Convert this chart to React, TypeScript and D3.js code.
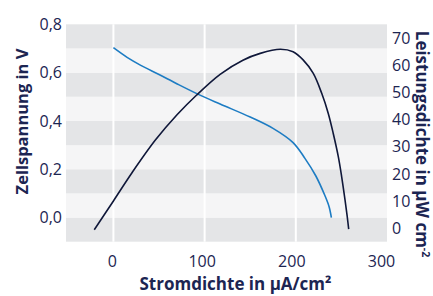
import React from "react";
import * as d3 from "d3";

const xTicks = [0, 100, 200, 300];
const yLeftTicks = [0, 0.2, 0.4, 0.6, 0.8];
const yRightTicks = [0, 10, 20, 30, 40, 50, 60, 70];
const bandEdges = [-0.1, 0, 0.1, 0.2, 0.3, 0.4, 0.5, 0.6, 0.7, 0.8];

const voltageCurrent = [0, 15, 30, 50, 70, 92, 117, 150, 175, 197, 210, 222, 232, 236.5, 239];
const voltageValues = [0.703, 0.663, 0.630, 0.592, 0.553, 0.512, 0.470, 0.416, 0.369, 0.31, 0.245, 0.172, 0.09, 0.045, 0.0];

const powerCurrent = [-21, 0, 20, 46, 70, 91, 117, 142, 161, 183, 197, 208, 219, 228.4, 235.6, 241, 246.6, 250.3, 254, 256.4, 258];
const powerValues = [-0.6, 10, 20.2, 32.4, 41.8, 48.9, 56.6, 61.8, 64.3, 65.8, 64.9, 61.9, 57.0, 49.6, 42.2, 34.9, 26.3, 18.9, 10.3, 4.2, -0.4];

const W = 433;
const H = 296;
const PL = 66, PR = 387, PT = 24.3, PB = 241.7;
const TEXT = "#1c2552";
const FONT = "'Open Sans', sans-serif";

export default function App() {
  const x = d3.scaleLinear().domain([-52, 300]).range([PL, PR]);
  const yL = d3.scaleLinear().domain([-0.1, 0.8]).range([PB, PT]);
  const yR = d3.scaleLinear().domain([-5, 75]).range([PB, PT]);

  const vPts: [number, number][] = voltageCurrent.map((c, i) => [c, voltageValues[i]]);
  const pPts: [number, number][] = powerCurrent.map((c, i) => [c, powerValues[i]]);

  const vLine = d3.line<[number, number]>().x(d => x(d[0])).y(d => yL(d[1])).curve(d3.curveCatmullRom.alpha(0.5));
  const pLine = d3.line<[number, number]>().x(d => x(d[0])).y(d => yR(d[1])).curve(d3.curveCatmullRom.alpha(0.5));

  return (
    <svg width={W} height={H} style={{ position: "absolute", left: 0, top: 0, background: "#fff" }} fontFamily={FONT}>
      {bandEdges.slice(0, -1).map((b, i) => (
        <rect key={i} x={PL} width={PR - PL} y={yL(bandEdges[i + 1])} height={yL(b) - yL(bandEdges[i + 1])}
          fill={i % 2 === 0 ? "#e4e5e7" : "#f5f5f6"} />
      ))}
      {xTicks.filter(t => t < 300).map(t => (
        <line key={t} x1={x(t)} x2={x(t)} y1={PT} y2={PB} stroke="#ffffff" strokeWidth={2} />
      ))}
      <path d={vLine(vPts) || ""} fill="none" stroke="#1d7cc3" strokeWidth={1.6} />
      <path d={pLine(pPts) || ""} fill="none" stroke="#0f1739" strokeWidth={1.6} />
      {yLeftTicks.map(t => (
        <text key={t} x={62} y={yL(t)} dy="0.36em" textAnchor="end" fontSize={16} fill={TEXT}>
          {d3.format(".1f")(t).replace(".", ",")}
        </text>
      ))}
      {yRightTicks.map(t => (
        <text key={t} x={392} y={yR(t)} dy="0.36em" textAnchor="start" fontSize={16} fill={TEXT}>
          {t}
        </text>
      ))}
      {xTicks.map(t => (
        <text key={t} x={x(t) - 1 - (t / 100) * 1.5} y={266.5} textAnchor="middle" fontSize={16} fill={TEXT}>
          {t}
        </text>
      ))}
      <text x={235.5} y={290} textAnchor="middle" fontSize={17} fontWeight="bold" fill={TEXT}>
        Stromdichte in µA/cm²
      </text>
      <text transform="translate(27.5,121.5) rotate(-90)" textAnchor="middle" fontSize={16.5} fontWeight="bold" fill={TEXT}>
        Zellspannung in V
      </text>
      <text transform="translate(415.5,144) rotate(90)" textAnchor="middle" fontSize={17} fontWeight="bold" fill={TEXT}>
        Leistungsdichte in µW cm<tspan fontSize={10.5} dy={-6.5}>-2</tspan>
      </text>
    </svg>
  );
}
